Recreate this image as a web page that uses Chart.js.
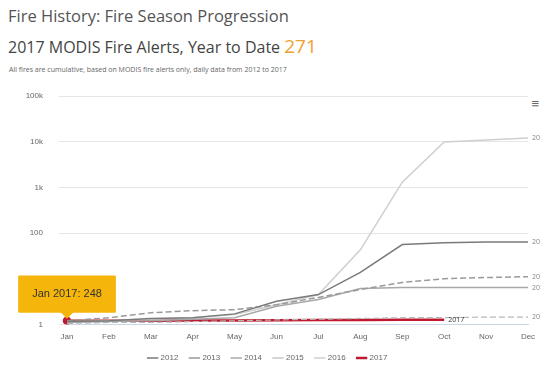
<!DOCTYPE html>
<html lang="en">
<head>
    <meta charset="UTF-8">
    <title>Fire Season Progression</title>
    <script src="https://cdn.jsdelivr.net/npm/chart.js"></script>
    <style>
        body {
            margin: 0;
            width: 541px;
            height: 366px;
            position: relative;
            overflow: hidden;
            background: #fff;
            font-family: "Open Sans", Arial, sans-serif;
        }
        .title {
            position: absolute;
            left: 8px;
            top: 4px;
            font-size: 16.5px;
            color: #555;
        }
        .subtitle {
            position: absolute;
            left: 8px;
            top: 33px;
            font-size: 16px;
            color: #444;
        }
        .subtitle span {
            color: #f0a030;
            font-size: 19px;
        }
        .caption {
            position: absolute;
            left: 9px;
            top: 65px;
            font-size: 7px;
            color: #666;
        }
        .menu {
            position: absolute;
            right: 2px;
            top: 94px;
            font-size: 13px;
            color: #666;
        }
        #chart {
            position: absolute;
            left: 0;
            top: 0;
        }
    </style>
</head>
<body>
    <div class="title">Fire History: Fire Season Progression</div>
    <div class="subtitle">2017 MODIS Fire Alerts, Year to Date <span>271</span></div>
    <div class="caption">All fires are cumulative, based on MODIS fire alerts only, daily data from 2012 to 2017</div>
    <div class="menu">&#8801;</div>
    <canvas id="chart" width="541" height="366"></canvas>

    <script>
        // Months on the x axis
        const months = ['Jan', 'Feb', 'Mar', 'Apr', 'May', 'Jun', 'Jul', 'Aug', 'Sep', 'Oct', 'Nov', 'Dec'];

        // Cumulative fire alerts per year (log axis)
        const fires2012 = [1.16, 1.2, 1.35, 1.4, 1.7, 3.2, 4.5, 13.7, 56, 61, 64, 64];
        const fires2013 = [1.2, 1.4, 1.8, 2.0, 2.1, 2.7, 3.9, 5.8, 8.3, 10, 10.6, 11.1];
        const fires2014 = [1.1, 1.16, 1.2, 1.3, 1.4, 2.5, 3.5, 6.1, 6.4, 6.4, 6.4, 6.4];
        const fires2015 = [1.05, 1.1, 1.1, 1.15, 1.2, 1.25, 1.3, 1.35, 1.4, 1.4, 1.45, 1.45];
        const fires2016 = [1.16, 1.2, 1.3, 1.4, 1.65, 2.7, 4.5, 43, 1300, 9900, 10900, 12000];
        const fires2017 = [1.2, 1.2, 1.2, 1.22, 1.22, 1.24, 1.25, 1.25, 1.26, 1.27, null, null];

        // Tick values and their labels
        const yTicks = [1, 100, 1000, 10000, 100000];
        const yTickLabels = ['1', '100', '1k', '10k', '100k'];

        const janAlerts2017 = 248;

        // Draw the series name at the end of each line
        const endLabels = {
            id: 'endLabels',
            afterDatasetsDraw(chart) {
                const ctx = chart.ctx;
                ctx.save();
                ctx.font = '7px "Open Sans", Arial, sans-serif';
                ctx.textBaseline = 'middle';
                chart.data.datasets.forEach((ds, i) => {
                    const meta = chart.getDatasetMeta(i);
                    let last = -1;
                    ds.data.forEach((v, j) => { if (v !== null) last = j; });
                    if (last < 0) return;
                    const pt = meta.data[last];
                    ctx.fillStyle = i === 5 ? '#333' : '#888';
                    ctx.fillText(ds.label, pt.x + 4, pt.y);
                });
                ctx.restore();
            }
        };

        const ctx = document.getElementById('chart').getContext('2d');
        const chart = new Chart(ctx, {
            type: 'line',
            data: {
                labels: months,
                datasets: [
                    { label: '2012', data: fires2012, borderColor: '#7a7a7a', borderWidth: 1.5 },
                    { label: '2013', data: fires2013, borderColor: '#9a9a9a', borderWidth: 1.5, borderDash: [6, 3] },
                    { label: '2014', data: fires2014, borderColor: '#a8a8a8', borderWidth: 1.5 },
                    { label: '2015', data: fires2015, borderColor: '#b8b8b8', borderWidth: 1.2, borderDash: [6, 3] },
                    { label: '2016', data: fires2016, borderColor: '#cfcfcf', borderWidth: 1.5 },
                    { label: '2017', data: fires2017, borderColor: '#c0192f', borderWidth: 2.5,
                      pointRadius: [3, 0, 0, 0, 0, 0, 0, 0, 0, 0, 0, 0], pointBackgroundColor: '#c0192f' }
                ].map(d => Object.assign({ fill: false, tension: 0, pointRadius: 0, pointHoverRadius: 3 }, d))
            },
            options: {
                responsive: false,
                animation: false,
                layout: { padding: { top: 96, left: 8, right: 13, bottom: -6 } },
                scales: {
                    x: {
                        offset: false,
                        grid: { display: false },
                        border: { color: '#ccd6eb' },
                        ticks: { color: '#666', font: { size: 8 }, padding: 0 }
                    },
                    y: {
                        type: 'logarithmic',
                        min: 1,
                        max: 100000,
                        afterBuildTicks: s => { s.ticks = yTicks.map(v => ({ value: v })); },
                        afterFit: s => { s.width = 59; },
                        grid: { color: '#e6e6e6' },
                        border: { display: false },
                        ticks: {
                            color: '#666',
                            font: { size: 8 },
                            padding: 16,
                            callback: v => yTickLabels[yTicks.indexOf(v)]
                        }
                    }
                },
                plugins: {
                    legend: {
                        position: 'bottom',
                        labels: {
                            usePointStyle: true,
                            pointStyle: 'line',
                            boxWidth: 14,
                            padding: 12,
                            color: '#666',
                            font: { size: 8 }
                        }
                    },
                    tooltip: {
                        backgroundColor: '#f5b50a',
                        bodyColor: '#333',
                        bodyFont: { size: 11 },
                        displayColors: false,
                        padding: { x: 14, y: 12 },
                        cornerRadius: 1,
                        caretSize: 6,
                        yAlign: 'bottom',
                        xAlign: 'center',
                        callbacks: {
                            title: () => '',
                            label: item => item.label + ' ' + item.dataset.label + ': ' + janAlerts2017
                        }
                    }
                }
            },
            plugins: [endLabels]
        });

        // Show the tooltip on January 2017 like in the reference
        const p = chart.getDatasetMeta(5).data[0];
        chart.tooltip.setActiveElements([{ datasetIndex: 5, index: 0 }], { x: p.x, y: p.y });
        chart.update();
    </script>
</body>
</html>
